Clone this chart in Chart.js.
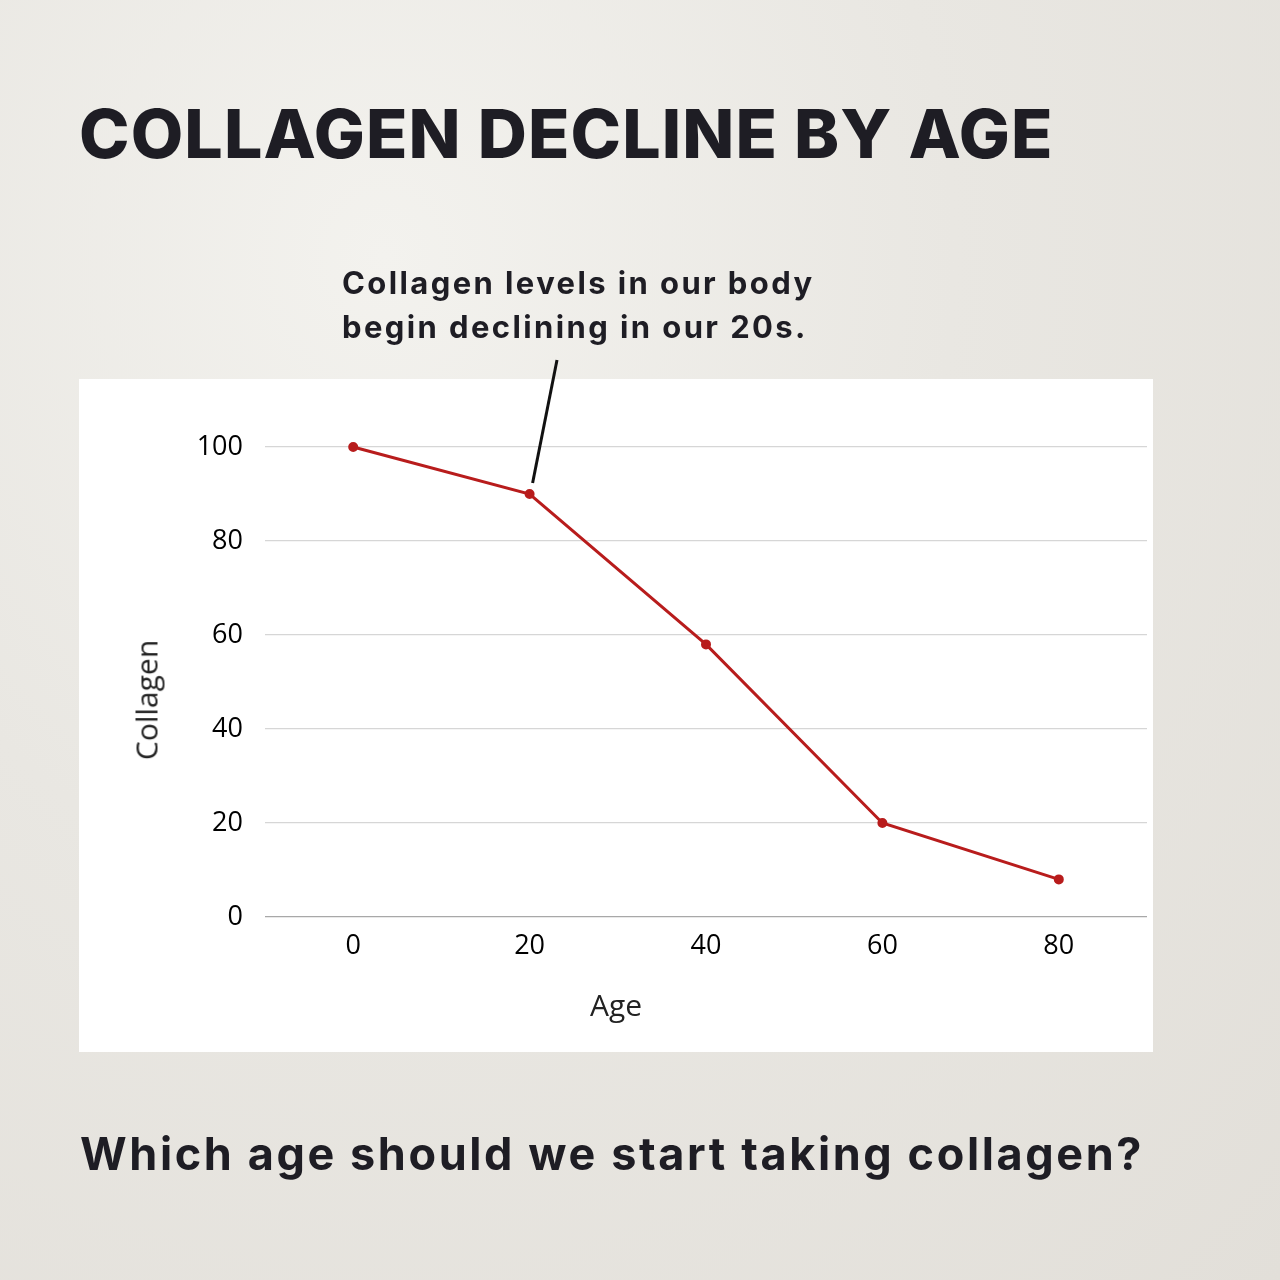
<!DOCTYPE html>
<html><head><meta charset="utf-8">
<script src="https://cdn.jsdelivr.net/npm/chart.js@4"></script>
<style>
html,body{margin:0;padding:0;width:1280px;height:1280px;overflow:hidden;}
body{background:radial-gradient(ellipse at 30% 20%,#f3f2ee 0%,#e9e7e2 45%,#e2dfd9 100%);position:relative;font-family:Inter,"Liberation Sans",sans-serif;color:#1e1d24;}
#c{position:absolute;left:0;top:0;}
.t{position:absolute;white-space:nowrap;}
#title{left:79px;top:92px;font-size:68px;font-weight:800;letter-spacing:1.1px;}
#ann{left:342px;top:261px;font-size:31px;font-weight:700;letter-spacing:2.4px;line-height:44px;}
#q{left:80px;top:1126px;font-size:45px;font-weight:700;letter-spacing:2.6px;}
#yt{left:146px;top:700px;font-family:"Open Sans",sans-serif;font-size:30px;color:#222;transform:translate(-50%,-50%) rotate(-90deg);}
#xt{left:616px;top:1004px;font-family:"Open Sans",sans-serif;font-size:30px;color:#222;transform:translate(-50%,-50%);}
</style></head><body>
<canvas id="c" width="1280" height="1280"></canvas>
<div class="t" id="title">COLLAGEN DECLINE BY AGE</div>
<div class="t" id="ann">Collagen levels in our body<br>begin declining in our 20s.</div>
<div class="t" id="yt">Collagen</div>
<div class="t" id="xt">Age</div>
<div class="t" id="q">Which age should we start taking collagen?</div>
<script>
const ages=[0,20,40,60,80];
const collagen=[100,90,58,20,8];
const xTicks=[0,20,40,60,80];
const yTicks=[0,20,40,60,80,100];
const panel={id:'panel',beforeDraw(ch){const c=ch.ctx;c.save();c.fillStyle='#fff';c.fillRect(79,379,1074,673);c.restore();},
afterDraw(ch){const c=ch.ctx,x=ch.scales.x,y=ch.scales.y;c.save();c.strokeStyle='#111';c.lineWidth=3;c.beginPath();c.moveTo(557,360);c.lineTo(x.getPixelForValue(20)+3,y.getPixelForValue(90)-11);c.stroke();c.restore();}};
new Chart(document.getElementById('c'),{type:'line',
data:{datasets:[{data:ages.map((a,i)=>({x:a,y:collagen[i]})),borderColor:'#b81c1c',backgroundColor:'#b81c1c',borderWidth:3,pointRadius:3.5,tension:0}]},
options:{responsive:false,animation:false,devicePixelRatio:1,
layout:{padding:{left:79,top:400,right:133,bottom:313}},
plugins:{legend:{display:false},tooltip:{enabled:false}},
scales:{
x:{type:'linear',min:-10,max:90,afterBuildTicks:s=>{s.ticks=xTicks.map(v=>({value:v}));},afterFit:s=>{s.height=50;},
grid:{display:false},border:{display:false},ticks:{padding:5,color:'#000',font:{family:'Open Sans',size:27}}},
y:{min:0,max:110,afterBuildTicks:s=>{s.ticks=yTicks.map(v=>({value:v}));},afterFit:s=>{s.width=186;},
grid:{drawTicks:false,lineWidth:1.2,color:c=>c.tick&&c.tick.value===0?'#a8a8a8':'#d6d6d6'},border:{display:false},
ticks:{padding:22,color:'#000',font:{family:'Open Sans',size:27}}}}},
plugins:[panel]});
</script></body></html>
